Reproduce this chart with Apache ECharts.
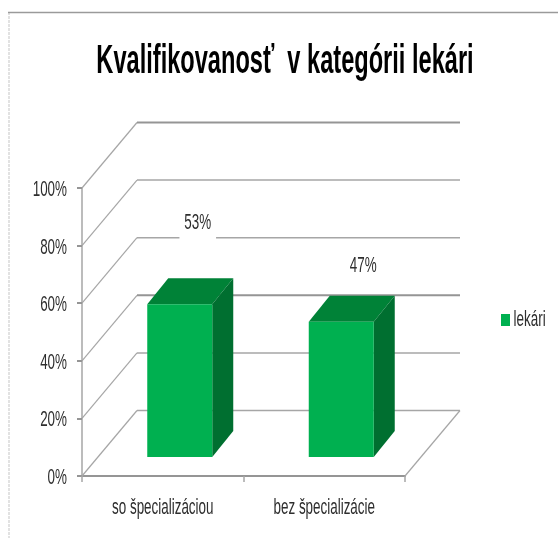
<!DOCTYPE html>
<html><head><meta charset="utf-8">
<style>html,body{margin:0;padding:0;background:#fff}#c{width:558px;height:538px;filter:blur(0.4px)}</style>
<script src="https://cdn.jsdelivr.net/npm/echarts@6/dist/echarts.min.js"></script>
</head><body><div id="c"></div>
<script>
const chartTitle = 'Kvalifikovanosť  v kategórii lekári';
const seriesName = 'lekári';
const categories = ['so špecializáciou', 'bez špecializácie'];
const values = [53, 47];
const valueTicks = [0, 20, 40, 60, 80, 100];

const FONT = '"Liberation Sans",sans-serif';
const GREEN = '#00b050', TOP = '#008237', SIDE = '#006f30', LINE = '#a6a6a6', LINE_DARK = '#959595';
const TEXT = '#2e2e2e';
const TEXT_SQUEEZE = 0.61, TITLE_SQUEEZE = 0.59;
// 3D projection offsets in pixels
const WALL = {dx: 55, dy: -65.5};
const BAR = {inX: 17, inY: -19, dx: 21, dy: -26, halfW: 32.5};
const LABEL_SHIFT = [[18, -81], [22, -56]];

const chart = echarts.init(document.getElementById('c'));
chart.setOption({
  animation: false,
  backgroundColor: '#fff',
  title: {text: chartTitle, left: 280, textAlign: 'center', top: 37,
    textStyle: {fontFamily: FONT, fontSize: 40, fontWeight: 'bold', color: '#000'}},
  legend: {show: true, left: 501, top: 309, itemWidth: 9, itemHeight: 12, padding: 0,
    icon: 'rect', data: [seriesName],
    textStyle: {fontFamily: FONT, fontSize: 22, color: TEXT}},
  grid: {left: 82, top: 188, width: 323, height: 288},
  xAxis: {type: 'category', data: categories,
    axisLine: {lineStyle: {color: LINE_DARK, width: 2}},
    axisTick: {show: true, length: 6, alignWithLabel: false, lineStyle: {color: LINE, width: 1.5}},
    axisLabel: {fontFamily: FONT, fontSize: 22, color: TEXT, margin: 21, interval: 0, hideOverlap: false}},
  yAxis: {type: 'value', min: 0, max: 100, interval: 20,
    axisLine: {show: true, lineStyle: {color: LINE, width: 1.5}},
    axisTick: {show: true, length: 5, lineStyle: {color: LINE_DARK, width: 2}},
    splitLine: {show: false},
    axisLabel: {fontFamily: FONT, fontSize: 22, color: TEXT, margin: 15, formatter: '{value}%'}},
  graphic: [
    {type: 'line', silent: true, shape: {x1: 9, y1: 12, x2: 9, y2: 538}, style: {stroke: '#cfcfcf', lineWidth: 1.2, lineDash: [3, 1]}},
    {type: 'line', silent: true, shape: {x1: 8, y1: 12.5, x2: 558, y2: 12.5}, style: {stroke: '#9a9a9a', lineWidth: 1.5}}
  ],
  series: [
    {type: 'custom', name: 'walls', silent: true, z: 1, coordinateSystem: 'cartesian2d', legendHoverLink: false,
     data: valueTicks.map(t => [0, t]), encode: {x: 0, y: 1},
     renderItem(params, api) {
       const t = api.value(1);
       const y = api.coord([0, t])[1];
       const x0 = params.coordSys.x, x1 = x0 + params.coordSys.width;
       const bx0 = x0 + WALL.dx, bx1 = x1 + WALL.dx, by = y + WALL.dy;
       const heavy = t === 100 || t === 40;
       const kids = [
         {type: 'line', shape: {x1: x0, y1: y, x2: bx0, y2: by}, style: {stroke: LINE, lineWidth: 1.2}},
         {type: 'line', shape: {x1: bx0, y1: by, x2: bx1, y2: by},
          style: {stroke: heavy ? LINE_DARK : LINE, lineWidth: heavy ? 2 : 1.5}}
       ];
       if (t === 0) kids.push({type: 'line', shape: {x1: x1, y1: y, x2: bx1, y2: by}, style: {stroke: LINE, lineWidth: 1.2}});
       return {type: 'group', children: kids};
     }},
    {type: 'custom', name: seriesName, z: 3, coordinateSystem: 'cartesian2d',
     itemStyle: {color: GREEN},
     data: categories.map((c, i) => [i, values[i]]), encode: {x: 0, y: 1},
     renderItem(params, api) {
       const i = api.value(0), v = api.value(1);
       const top = api.coord([i, v]), base = api.coord([i, 0]);
       const cx = top[0] + BAR.inX, l = cx - BAR.halfW, r = cx + BAR.halfW;
       const t = top[1] + BAR.inY, b = base[1] + BAR.inY;
       const d = BAR;
       const shift = LABEL_SHIFT[i];
       return {type: 'group', children: [
         {type: 'polygon', shape: {points: [[l, t], [r, t], [r + d.dx, t + d.dy], [l + d.dx, t + d.dy]]}, style: {fill: TOP}},
         {type: 'polygon', shape: {points: [[r, t], [r + d.dx, t + d.dy], [r + d.dx, b + d.dy], [r, b]]}, style: {fill: SIDE}},
         {type: 'rect', shape: {x: l, y: t, width: r - l, height: b - t}, style: {fill: GREEN}},
         {type: 'text', x: cx + shift[0], y: t + shift[1], style: {text: v + '%', fontFamily: FONT, fontSize: 22, fill: TEXT,
            align: 'center', verticalAlign: 'middle', backgroundColor: '#fff', padding: [8, 8, 8, 8]}}
       ]};
     }}
  ]
});

// Squeeze every text horizontally around its own anchor: the reference uses a tall, condensed face.
const tickTexts = valueTicks.map(t => t + '%');
const zr = chart.getZr();
zr.storage.traverse(el => {
  if (el.type === 'text' && el.style && el.style.text) {
    const s = el.style.text;
    el.scaleX = s === chartTitle ? TITLE_SQUEEZE : TEXT_SQUEEZE;
    if (tickTexts.includes(s)) el.y += 2;
    if (s === seriesName) el.x += 4;
    el.markRedraw();
  }
});
zr.refreshImmediately && zr.refreshImmediately();
</script></body></html>
